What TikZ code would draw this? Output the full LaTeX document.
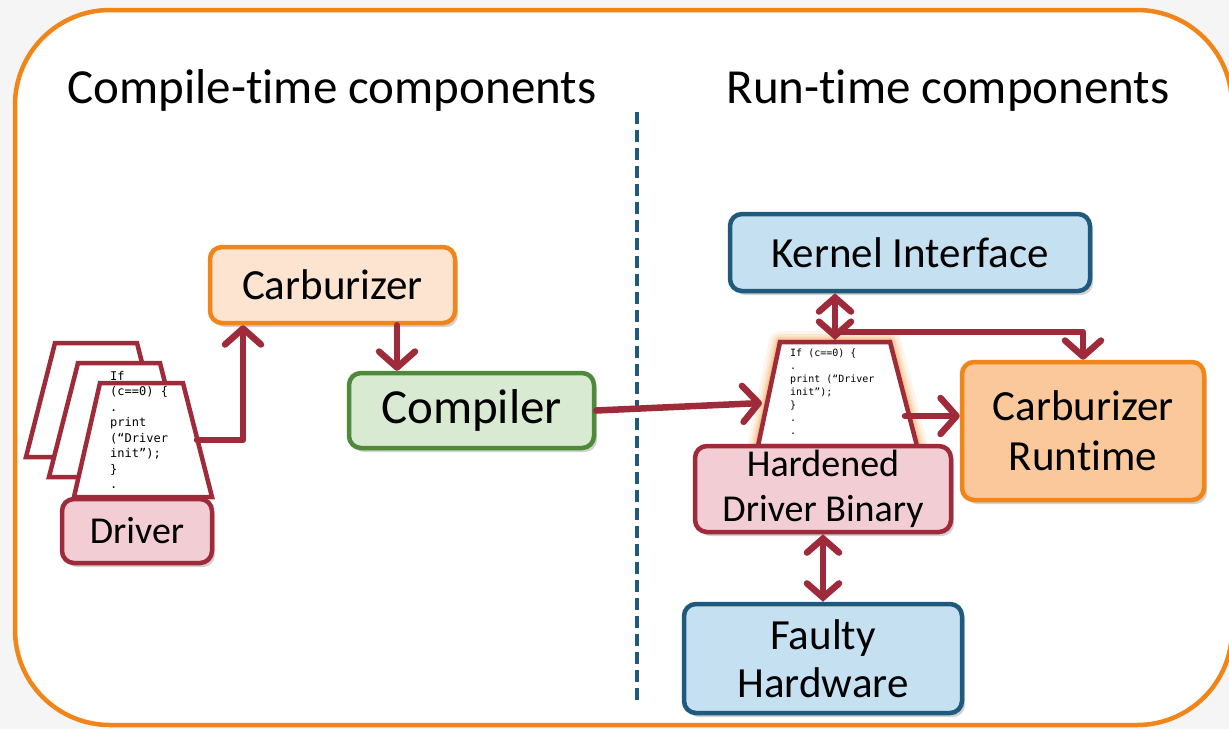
\documentclass[tikz,border=0pt]{standalone}
\usepackage{fontspec}
\setmainfont{Carlito}[Ligatures=NoCommon]
\newfontfamily\codefont{DejaVu Sans Mono}
\usetikzlibrary{arrows.meta,shadows}
\definecolor{dred}{HTML}{9E2A3A}
\definecolor{pinkfill}{HTML}{F2CDD3}
\definecolor{orgline}{HTML}{F08519}
\definecolor{orgfill}{HTML}{FDE4D0}
\definecolor{orgfill2}{HTML}{FAC89B}
\definecolor{grnline}{HTML}{4F8A3A}
\definecolor{grnfill}{HTML}{D9EAD3}
\definecolor{bluline}{HTML}{1F5A7E}
\definecolor{blufill}{HTML}{C5E1F1}
\begin{document}
\begin{tikzpicture}[x=1pt,y=-1pt,
  box/.style={rounded corners=12pt, line width=4.5pt, minimum width=#1, align=center, inner sep=0pt,
    drop shadow={opacity=0.35, shadow xshift=3pt, shadow yshift=-4pt}},
  redbox/.style={box=#1, draw=dred, fill=pinkfill},
  orgbox/.style={box=#1, draw=orgline, fill=orgfill},
  grnbox/.style={box=#1, draw=grnline, fill=grnfill},
  blubox/.style={box=#1, draw=bluline, fill=blufill},
  paper/.style={draw=dred, fill=white, line width=4.5pt, line join=miter},
  arr/.style={draw=dred, line width=6.5pt, line cap=round, line join=round,
    -{Straight Barb[length=16pt,width=36pt,line cap=round,line join=round]}},
  darr/.style={draw=dred, line width=6.5pt, line cap=round,
    {Straight Barb[length=14pt,width=32pt,line cap=round]}-{Straight Barb[length=14pt,width=32pt,line cap=round]}},
  ttl/.style={font=\fontsize{49}{52}\selectfont, anchor=base},
  code/.style n args={2}{font=\codefont\fontsize{#1}{#2}\selectfont, align=left, anchor=north west, inner sep=0pt}
]
\useasboundingbox (0,0) rectangle (1229,729);
\fill[gray!8] (0,0) rectangle (1229,729);
% outer frame
\draw[orgline, line width=4.5pt, fill=white, rounded corners=95pt] (15,10) rectangle (1232,725);
% titles
\node[ttl] (t1) at (332,103) {Compile-time components};
\node[ttl] (t2) at (948,103) {Run-time components};
% divider
\draw[bluline, line width=4pt, dash pattern=on 12pt off 6pt] (637,112) -- (637,700);

% driver stack
\draw[paper] (55,343) -- (137,343) -- (166,457) -- (26,457) -- cycle;
\draw[paper] (78,363) -- (160,363) -- (189,477) -- (49,477) -- cycle;
\draw[paper] (100,383) -- (183,383) -- (212,497) -- (74,497) -- cycle;
\node[code={12}{15.5}] (c1) at (110,371) {If\\(c==0) \{\\.\\print\\(“Driver\\init”);\\\}\\.};
\coordinate (dout) at (197,440);
\coordinate (dturn) at (243,440);

% boxes
\node[orgbox=245pt, minimum height=76pt, font=\fontsize{43}{46}\selectfont] (carb) at (332.5,285) {Carburizer};
\node[grnbox=245pt, minimum height=75pt, font=\fontsize{49}{52}\selectfont] (comp) at (471.5,410.5) {Compiler};
\node[redbox=150pt, minimum height=64pt, font=\fontsize{38}{42}\selectfont] (drv) at (137,531) {Driver};

% hardened trapezoid with glow
\foreach \w/\o in {22/0.08,16/0.12,11/0.18,7/0.25}{
  \draw[orgline, opacity=\o, line width=\w pt, line join=round] (780,342) -- (890,342) -- (917,446) -- (758,446) -- cycle;
}
\draw[paper] (780,342) -- (890,342) -- (917,446) -- (758,446) -- cycle;
\node[code={10}{13}] (c2) at (790,349) {If (c==0) \{\\.\\print (“Driver\\init”);\\\}\\.\\.};
\coordinate (hin) at (762,403);
\coordinate (hout) at (905,416);
\coordinate (htop) at (835,340);

\node[redbox=256pt, minimum height=86pt, font=\fontsize{38}{45}\selectfont] (hard) at (823,489) {Hardened\\Driver Binary};
\node[blubox=360pt, minimum height=77pt, font=\fontsize{43}{46}\selectfont] (kern) at (910,252.5) {Kernel Interface};
\node[box=242pt, draw=orgline, fill=orgfill2, minimum height=138pt, font=\fontsize{43}{50}\selectfont] (rt) at (1083,431) {Carburizer\\Runtime};
\node[blubox=278pt, minimum height=109pt, font=\fontsize{43}{48}\selectfont] (faulty) at (823,658.5) {Faulty\\Hardware};

% connectors
\draw[arr] (dout) -- (dturn) -- (carb.south -| dturn);
\draw[arr] (carb.south -| 397,0) -- (comp.north -| 397,0);
\draw[arr] (comp.east) -- (hin);
\draw[arr] (hout) -- (rt.west |- hout);
\draw[darr] (kern.south -| htop) -- (htop);
\coordinate (br) at (835,332);
\draw[arr] (br) -- (br -| rt.north) -- (rt.north);
\draw[darr] (hard.south) -- (faulty.north);
\end{tikzpicture}
\end{document}
